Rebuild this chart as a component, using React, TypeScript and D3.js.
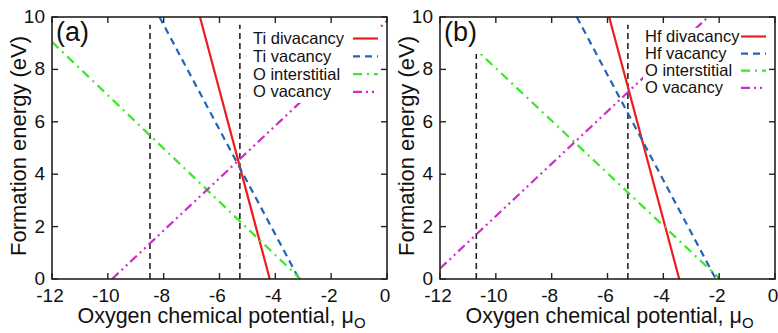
import React, { useEffect, useRef } from 'react';
import * as d3 from 'd3';

// axes
const muTicks = [-12, -10, -8, -6, -4, -2, 0];
const energyTicks = [0, 2, 4, 6, 8, 10];
const muDomain = [-12, 0];
const energyDomain = [0, 10];

// (a) TiO2 : [mu_O, E_form] end points of each defect line
const tiDivacancy = [[-6.7, 10], [-4.2, 0]];
const tiVacancy = [[-8.15, 10], [-3.15, 0]];
const oInterstitialA = [[-12, 9.05], [-3.1, 0]];
const oVacancyA = [[-9.85, 0], [0, 9.85]];
const legendA = ['Ti divacancy', 'Ti vacancy', 'O interstitial', 'O vacancy'];
const limitsA = [-8.49, -5.27];

// (b) HfO2
const hfDivacancy = [[-5.94, 10], [-3.43, 0]];
const hfVacancy = [[-7.1, 10], [-2.12, 0]];
const oInterstitialB = [[-12, 10.05], [-1.97, 0]];
const oVacancyB = [[-12, 0.4], [-2.4, 10]];
const legendB = ['Hf divacancy', 'Hf vacancy', 'O interstitial', 'O vacancy'];
const limitsB = [-10.7, -5.27];
const limitTop = 9.7;

const lineStyles = [
  { color: '#ee1c1c', dash: null },
  { color: '#1f66b8', dash: '7,5' },
  { color: '#3ee62a', dash: '9,5,2,5' },
  { color: '#cc2ccc', dash: '9,4,2,4,2,4' }
];

const FONT = '"Liberation Sans", Arial, Helvetica, sans-serif';

const panels = [
  {
    id: 'a', tag: '(a)', left: 52, lines: [tiDivacancy, tiVacancy, oInterstitialA, oVacancyA],
    legend: legendA, limits: limitsA,
    tagBox: null,
    legendBox: { x: 247, y: 29, w: 133, h: 74 }, legendX: 253, legendY: 44, legendStep: 17.8
  },
  {
    id: 'b', tag: '(b)', left: 440, lines: [hfDivacancy, hfVacancy, oInterstitialB, oVacancyB],
    legend: legendB, limits: limitsB,
    tagBox: { x: 441, y: 18, w: 46, h: 36 },
    legendBox: { x: 643, y: 28, w: 125, h: 70 }, legendX: 645, legendY: 42, legendStep: 17.1
  }
];

const App = () => {
  const svgRef = useRef(null);

  useEffect(() => {
    const width = 778;
    const height = 333;
    const top = 17;
    const bottom = 279;
    const plotW = 335;
    const tick = 6;

    const svg = d3.select(svgRef.current)
      .attr('width', width)
      .attr('height', height)
      .style('font-family', FONT);
    svg.selectAll('*').remove();

    svg.append('rect').attr('width', width).attr('height', height).attr('fill', '#fff');

    panels.forEach(p => {
      const x = d3.scaleLinear().domain(muDomain).range([p.left, p.left + plotW]);
      const y = d3.scaleLinear().domain(energyDomain).range([bottom, top]);
      const g = svg.append('g').attr('class', `panel-${p.id}`);

      g.append('clipPath').attr('id', `clip-${p.id}`)
        .append('rect')
        .attr('x', x(muDomain[0])).attr('y', y(energyDomain[1]))
        .attr('width', plotW).attr('height', bottom - top);

      const plot = g.append('g').attr('clip-path', `url(#clip-${p.id})`);

      // stability limits
      plot.selectAll('.limit')
        .data(p.limits)
        .enter()
        .append('line')
        .attr('x1', d => x(d)).attr('x2', d => x(d))
        .attr('y1', y(0)).attr('y2', y(limitTop))
        .attr('stroke', '#222')
        .attr('stroke-width', 1.6)
        .attr('stroke-dasharray', '6,4');

      // defect formation energies
      const line = d3.line().x(d => x(d[0])).y(d => y(d[1]));
      plot.selectAll('.defect')
        .data(p.lines)
        .enter()
        .append('path')
        .attr('d', d => line(d))
        .attr('fill', 'none')
        .attr('stroke', (d, i) => lineStyles[i].color)
        .attr('stroke-width', 2.2)
        .attr('stroke-dasharray', (d, i) => lineStyles[i].dash);

      // panel tag
      if (p.tagBox) {
        g.append('rect')
          .attr('x', p.tagBox.x).attr('y', p.tagBox.y)
          .attr('width', p.tagBox.w).attr('height', p.tagBox.h)
          .attr('fill', '#fff');
      }
      g.append('text')
        .attr('x', p.left + 4)
        .attr('y', 41)
        .style('font-size', '27px')
        .attr('fill', '#111')
        .text(p.tag);

      // key
      g.append('rect')
        .attr('x', p.legendBox.x).attr('y', p.legendBox.y)
        .attr('width', p.legendBox.w).attr('height', p.legendBox.h)
        .attr('fill', '#fff');
      p.legend.forEach((name, i) => {
        const by = p.legendY + i * p.legendStep;
        g.append('text')
          .attr('x', p.legendX)
          .attr('y', by)
          .style('font-size', '16.5px')
          .attr('fill', '#111')
          .text(name);
        g.append('line')
          .attr('x1', p.left + 301).attr('x2', p.left + 326)
          .attr('y1', by - 5.5).attr('y2', by - 5.5)
          .attr('stroke', lineStyles[i].color)
          .attr('stroke-width', 2.2)
          .attr('stroke-dasharray', lineStyles[i].dash);
      });

      // frame + inward ticks on all sides
      g.append('rect')
        .attr('x', x(muDomain[0])).attr('y', y(energyDomain[1]))
        .attr('width', plotW).attr('height', bottom - top)
        .attr('fill', 'none')
        .attr('stroke', '#222')
        .attr('stroke-width', 1.6);

      muTicks.forEach(t => {
        g.append('line').attr('x1', x(t)).attr('x2', x(t)).attr('y1', bottom).attr('y2', bottom - tick)
          .attr('stroke', '#222').attr('stroke-width', 1.4);
        g.append('line').attr('x1', x(t)).attr('x2', x(t)).attr('y1', top).attr('y2', top + tick)
          .attr('stroke', '#222').attr('stroke-width', 1.4);
        g.append('text')
          .attr('x', x(t) - 2)
          .attr('y', bottom + 23)
          .attr('text-anchor', 'middle')
          .style('font-size', '19px')
          .attr('fill', '#111')
          .text(t);
      });

      energyTicks.forEach(t => {
        g.append('line').attr('x1', p.left).attr('x2', p.left + tick).attr('y1', y(t)).attr('y2', y(t))
          .attr('stroke', '#222').attr('stroke-width', 1.4);
        g.append('line').attr('x1', p.left + plotW).attr('x2', p.left + plotW - tick).attr('y1', y(t)).attr('y2', y(t))
          .attr('stroke', '#222').attr('stroke-width', 1.4);
        g.append('text')
          .attr('x', p.left - 7)
          .attr('y', y(t) + 6)
          .attr('text-anchor', 'end')
          .style('font-size', '19px')
          .attr('fill', '#111')
          .text(t);
      });

      // axis titles
      const xt = g.append('text')
        .attr('x', p.left + plotW / 2 + 2)
        .attr('y', 323)
        .attr('text-anchor', 'middle')
        .style('font-size', '21.5px')
        .attr('fill', '#111');
      xt.append('tspan').text('Oxygen chemical potential, μ');
      xt.append('tspan').attr('dy', 5).style('font-size', '15px').text('O');

      g.append('text')
        .attr('transform', `translate(${p.left - 26}, 146) rotate(-90)`)
        .attr('text-anchor', 'middle')
        .style('font-size', '22px')
        .attr('fill', '#111')
        .text('Formation energy (eV)');
    });
  }, []);

  return (
    <svg ref={svgRef} style={{ position: 'absolute', left: 0, top: 0, display: 'block' }}></svg>
  );
};

export default App;
